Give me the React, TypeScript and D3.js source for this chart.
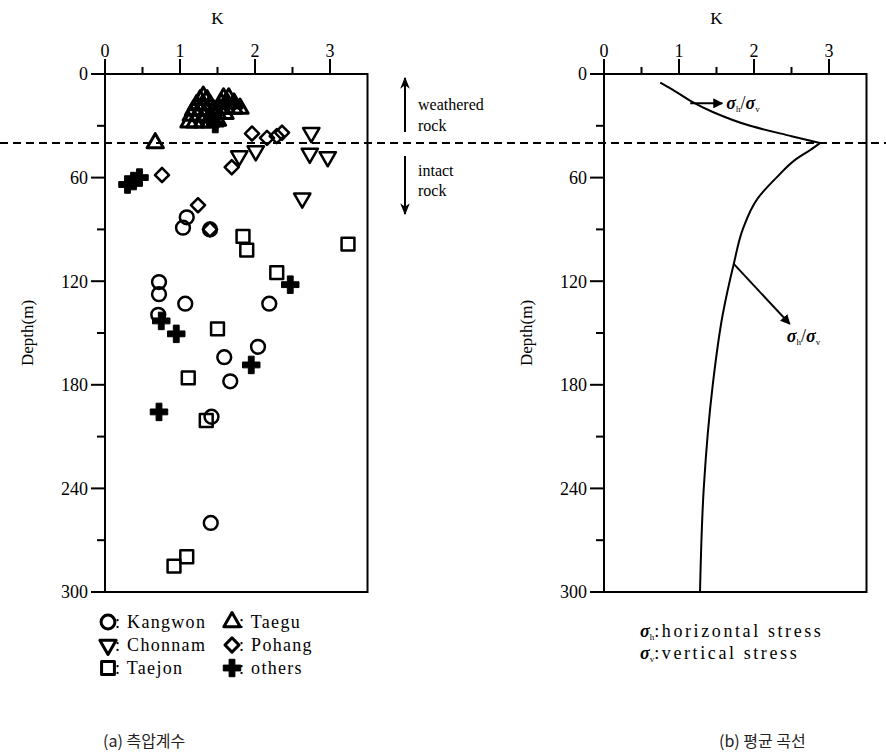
import React from 'react';
import * as d3 from 'd3';

// tick values
const kMajor = [0, 1, 2, 3];
const kMinor = [0.5, 1.5, 2.5];
const depthMajor = [0, 60, 120, 180, 240, 300];
const depthMinor = [30, 90, 150, 210, 270];

// (a) measured K by region: [K, depth]
const kangwon = [[1.09, 83], [1.04, 89], [1.4, 90], [0.72, 120.5], [0.72, 127.5], [1.07, 133], [2.19, 133], [0.71, 139.5], [2.04, 158], [1.59, 164], [1.67, 178], [1.42, 198.5], [1.41, 260]];
const chonnam = [[2.75, 34], [2.01, 44.6], [1.79, 47.5], [2.73, 46], [2.97, 48], [2.63, 72]];
const taejon = [[1.84, 94], [1.89, 102], [3.24, 98.5], [2.29, 115], [1.5, 147.6], [1.11, 176], [1.35, 200.7], [1.09, 279.6], [0.92, 285]];
const taegu = [
    [0.67, 40],
    [1.31, 13], [1.27, 15], [1.36, 15], [1.22, 18], [1.3, 18], [1.4, 18], [1.18, 21], [1.27, 21], [1.36, 21], [1.45, 21],
    [1.15, 24], [1.24, 24], [1.33, 24], [1.42, 25], [1.12, 28], [1.2, 28], [1.3, 28], [1.4, 28], [1.5, 27],
    [1.58, 14], [1.65, 14], [1.55, 17], [1.63, 17], [1.72, 17], [1.52, 20], [1.62, 20], [1.72, 20], [1.8, 20], [1.5, 23], [1.6, 23],
];
const pohang = [[1.96, 34.5], [2.16, 37], [2.29, 36], [2.36, 34], [1.69, 54], [0.76, 58.5], [1.24, 76], [1.4, 90]];
const others = [[0.3, 64], [0.38, 62], [0.46, 60], [2.47, 122], [0.95, 150.5], [1.95, 168.5], [0.75, 143], [0.72, 195.7], [1.47, 29]];

// (b) average curve, depth vs K
const upperDepth = [5, 10, 16, 22, 30, 36, 40];
const upperK = [0.75, 0.95, 1.17, 1.45, 1.95, 2.5, 2.88];
const lowerDepth = [40, 44, 49, 60, 72, 90, 110, 140, 180, 240, 300];
const lowerK = [2.88, 2.75, 2.57, 2.3, 2.05, 1.85, 1.73, 1.58, 1.45, 1.33, 1.28];

const boundaryDepth = 40;

const legendNames = ['Kangwon', 'Taegu', 'Chonnam', 'Pohang', 'Taejon', 'others'];

const serif = '"Liberation Serif", "Times New Roman", serif';

const y = d3.scaleLinear().domain([0, 300]).range([74, 592]);
const xa = d3.scaleLinear().domain([0, 3.5]).range([105, 367.5]);
const xb = d3.scaleLinear().domain([0, 3.5]).range([604, 866.5]);

const sym = {
    circle: d3.symbol().type(d3.symbolCircle).size(150)(),
    square: d3.symbol().type(d3.symbolSquare).size(165)(),
    triangle: d3.symbol().type(d3.symbolTriangle).size(115)(),
    diamond: d3.symbol().type(d3.symbolSquare).size(100)(),
    cross: d3.symbol().type(d3.symbolCross).size(170)(),
};

function Marker({ kind, x, yy, sw = 2.5 }) {
    let d = sym.circle, rot = 0, filled = false;
    if (kind === 'Taejon') d = sym.square;
    if (kind === 'Taegu') d = sym.triangle;
    if (kind === 'Chonnam') { d = sym.triangle; rot = 180; }
    if (kind === 'Pohang') { d = sym.diamond; rot = 45; }
    if (kind === 'others') { d = sym.cross; filled = true; }
    return (
        <path
            d={d}
            transform={`translate(${x},${yy}) rotate(${rot})`}
            fill={filled ? '#000' : 'none'}
            stroke="#000"
            strokeWidth={filled ? 1 : sw}
            strokeLinejoin="round"
        />
    );
}

function Frame({ x }) {
    return (
        <g fontFamily={serif} fontSize={18}>
            <text x={x(1.5)} y={24} textAnchor="middle" fontSize={17}>K</text>
            <rect x={x(0)} y={y(0)} width={x(3.5) - x(0)} height={y(300) - y(0)} fill="none" stroke="#000" strokeWidth={2} />
            {kMajor.map(k => (
                <g key={'km' + k}>
                    <line x1={x(k)} x2={x(k)} y1={y(0)} y2={y(0) - 15} stroke="#000" strokeWidth={2} />
                    <text x={x(k)} y={y(0) - 17} textAnchor="middle">{k}</text>
                </g>
            ))}
            {kMinor.map(k => (
                <line key={'kn' + k} x1={x(k)} x2={x(k)} y1={y(0)} y2={y(0) - 7} stroke="#000" strokeWidth={2} />
            ))}
            {depthMajor.map(d => (
                <g key={'dm' + d}>
                    <line x1={x(0)} x2={x(0) - 14} y1={y(d)} y2={y(d)} stroke="#000" strokeWidth={2} />
                    <text x={x(0) - 17} y={y(d)} dy="0.35em" textAnchor="end">{d}</text>
                </g>
            ))}
            {depthMinor.map(d => (
                <line key={'dn' + d} x1={x(0)} x2={x(0) - 8} y1={y(d)} y2={y(d)} stroke="#000" strokeWidth={2} />
            ))}
            <text transform={`translate(${x(0) - 72},${(y(0) + y(300)) / 2}) rotate(-90)`} textAnchor="middle" fontSize={17}>Depth(m)</text>
        </g>
    );
}

function Ratio({ x, yy }) {
    return (
        <text x={x} y={yy}>
            <tspan fontWeight="bold" fontStyle="italic">σ</tspan><tspan fontSize={9} dy={3}>h</tspan><tspan dy={-3}>/</tspan><tspan fontWeight="bold" fontStyle="italic">σ</tspan><tspan fontSize={9} dy={3}>v</tspan>
        </text>
    );
}

export default function App() {
    const line = d3.line().x(d => xb(d[0])).y(d => y(d[1])).curve(d3.curveMonotoneY);
    const upper = line(upperK.map((k, i) => [k, upperDepth[i]]));
    const lower = line(lowerK.map((k, i) => [k, lowerDepth[i]]));

    const groups = [
        ['Kangwon', kangwon], ['Chonnam', chonnam], ['Taejon', taejon],
        ['Taegu', taegu], ['Pohang', pohang], ['others', others],
    ];

    // bends for the label arrows on the curve
    const arrow1 = [xb(1.15), y(17)];
    const arrow2 = [xb(1.73), y(110)];

    return (
        <svg width={886} height={755} style={{ position: 'absolute', left: 0, top: 0, background: '#fff' }}>
            <defs>
                <marker id="ah" viewBox="0 0 10 10" refX="9" refY="5" markerWidth="5" markerHeight="5" orient="auto">
                    <path d="M0,0 L10,5 L0,10 z" fill="#000" />
                </marker>
                <marker id="ah2" viewBox="0 0 10 10" refX="9" refY="5" markerWidth="6" markerHeight="6" orient="auto">
                    <path d="M0,1 L10,5 L0,9 L3,5 z" fill="#000" />
                </marker>
            </defs>
            <rect width={886} height={755} fill="#fff" />

            <Frame x={xa} />
            <Frame x={xb} />

            {/* weathered / intact boundary */}
            <line x1={0} x2={886} y1={y(boundaryDepth)} y2={y(boundaryDepth)} stroke="#000" strokeWidth={2} strokeDasharray="8,5" />

            {groups.map(([name, pts]) => (
                <g key={name}>
                    {pts.map((p, i) => <Marker key={i} kind={name} x={xa(p[0])} yy={y(p[1])} sw={name === 'Taegu' ? 3 : 2.5} />)}
                </g>
            ))}

            <g fontFamily={serif} fontSize={16}>
                <line x1={405} x2={405} y1={132} y2={78} stroke="#000" strokeWidth={2} markerEnd="url(#ah2)" />
                <text x={418} y={110}>weathered</text>
                <text x={418} y={131}>rock</text>
                <line x1={405} x2={405} y1={156} y2={214} stroke="#000" strokeWidth={2} markerEnd="url(#ah2)" />
                <text x={418} y={176}>intact</text>
                <text x={418} y={196}>rock</text>
            </g>

            {/* legend (a) */}
            <g fontFamily={serif} fontSize={18} letterSpacing={1.3}>
                {legendNames.map((name, i) => {
                    const col = i % 2, row = Math.floor(i / 2);
                    const mx = col === 0 ? 108 : 232;
                    const my = 622 + row * 23;
                    return (
                        <g key={name}>
                            <Marker kind={name} x={mx} yy={my} sw={3} />
                            <text x={mx + 7} y={my} dy="0.35em">: {name}</text>
                        </g>
                    );
                })}
            </g>

            {/* (b) average curve */}
            <path d={upper} fill="none" stroke="#000" strokeWidth={2} />
            <path d={lower} fill="none" stroke="#000" strokeWidth={2} />
            <line x1={arrow1[0]} y1={arrow1[1]} x2={arrow1[0] + 32} y2={arrow1[1]} stroke="#000" strokeWidth={2} markerEnd="url(#ah)" />
            <line x1={arrow2[0]} y1={arrow2[1]} x2={arrow2[0] + 56} y2={arrow2[1] + 60} stroke="#000" strokeWidth={2} markerEnd="url(#ah)" />
            <g fontFamily={serif} fontSize={18}>
                <Ratio x={arrow1[0] + 36} yy={arrow1[1] + 6} />
                <Ratio x={arrow2[0] + 53} yy={arrow2[1] + 78} />
            </g>
            <g fontFamily={serif} fontSize={18}>
                <text x={640} y={637}>
                    <tspan fontWeight="bold" fontStyle="italic">σ</tspan><tspan fontSize={9} dy={3}>h</tspan><tspan dy={-3} letterSpacing={2.6}>:horizontal  stress</tspan>
                </text>
                <text x={640} y={659}>
                    <tspan fontWeight="bold" fontStyle="italic">σ</tspan><tspan fontSize={9} dy={3}>v</tspan><tspan dy={-3} letterSpacing={2.6}>:vertical  stress</tspan>
                </text>
            </g>

            <g fontFamily='"Noto Sans CJK KR", "Noto Sans", sans-serif' fontSize={16} fill="#222">
                <text x={103} y={747}>(a) 측압계수</text>
                <text x={719} y={747}>(b) 평균 곡선</text>
            </g>
        </svg>
    );
}
